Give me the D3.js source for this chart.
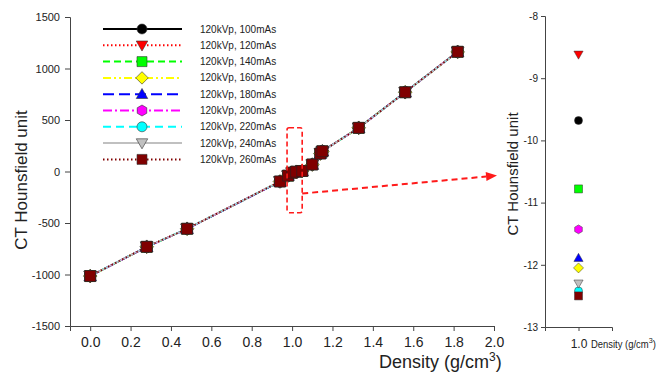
<!DOCTYPE html>
<html><head><meta charset="utf-8">
<script src="https://cdn.jsdelivr.net/npm/d3@7"></script>
<style>body{margin:0;background:#fff}svg{display:block;font-family:Arial,"Liberation Sans",sans-serif}</style>
</head><body>
<svg id="c" width="670" height="383"></svg>
<script>
// ---- data ----
const density = [0.00, 0.28, 0.48, 0.94, 0.98, 1.00, 1.02, 1.05, 1.10, 1.14, 1.15, 1.33, 1.56, 1.82];
const seriesLabels = ["120kVp, 100mAs","120kVp, 120mAs","120kVp, 140mAs","120kVp, 160mAs","120kVp, 180mAs","120kVp, 200mAs","120kVp, 220mAs","120kVp, 240mAs","120kVp, 260mAs"];
const hu100 = [-1016, -733, -557, -98, -41, -9.68, -2, 6, 69, 176, 198, 425, 771, 1164];
const hu120 = [-1014, -730, -555, -96, -40, -8.62, -1, 6, 68, 175, 197, 424, 770, 1163];
const hu140 = [-1015, -732, -556, -97, -41, -10.78, -2, 5, 68, 175, 196, 423, 769, 1162];
const hu160 = [-1015, -731, -556, -97, -40, -12.05, -3, 5, 67, 174, 196, 424, 770, 1161];
const hu180 = [-1016, -731, -557, -98, -40, -11.89, -3, 4, 67, 175, 197, 424, 769, 1162];
const hu200 = [-1015, -732, -556, -97, -41, -11.43, -2, 5, 68, 174, 197, 423, 770, 1162];
const hu220 = [-1014, -731, -555, -97, -40, -12.42, -3, 5, 68, 175, 196, 424, 770, 1161];
const hu240 = [-1015, -730, -556, -96, -40, -12.30, -3, 4, 67, 175, 197, 424, 769, 1162];
const hu260 = [-1015, -731, -556, -97, -40, -12.50, -2, 5, 68, 175, 197, 424, 770, 1162];
const waterDensity = 1.0;
const xTicks = [0.0, 0.2, 0.4, 0.6, 0.8, 1.0, 1.2, 1.4, 1.6, 1.8, 2.0];
const yTicks = [-1500, -1000, -500, 0, 500, 1000, 1500];
const zoomYTicks = [-13, -12, -11, -10, -9, -8];
const zoomXTicks = [1.0];
const zoomBoxDensity = [0.975, 1.05];
const zoomBoxHU = [-400, 425];
const arrowFrom = [1.05, -214];
const arrowTo = [2.015, -39];

// ---- styles ----
const allHU = [hu100, hu120, hu140, hu160, hu180, hu200, hu220, hu240, hu260];
const colors = ["#000000","#ff0000","#00ff00","#ffff00","#0000ff","#ff00ff","#00ffff","#c0c0c0","#800000"];
const dashes = [null,"1.5,2.5","7,4","8,3,2,3,2,3","11,5","9,3,2,3","8,5",null,"1.5,2.5"];
const shapes = ["circle","triDown","square","diamond","triUp","hexagon","circle","triDown","square"];

function shapePath(kind, s){
  if(kind==="circle") return d3.symbol(d3.symbolCircle, Math.PI*s*s)();
  if(kind==="square") return `M${-s},${-s}H${s}V${s}H${-s}Z`;
  if(kind==="diamond"){const r=s*1.25;return `M0,${-r}L${r},0L0,${r}L${-r},0Z`;}
  if(kind==="triUp"){const r=s*1.15;return `M0,${-r}L${r},${r*0.75}L${-r},${r*0.75}Z`;}
  if(kind==="triDown"){const r=s*1.15;return `M0,${r}L${r},${-r*0.75}L${-r},${-r*0.75}Z`;}
  if(kind==="hexagon"){const r=s*1.1;return d3.range(6).map((i)=>{const a=Math.PI/3*i+Math.PI/6;return (i?"L":"M")+(r*Math.cos(a)).toFixed(2)+","+(r*Math.sin(a)).toFixed(2);}).join("")+"Z";}
}
const plainFmt = d => String(d);

const svg = d3.select("#c");
const txt = "#222";

// ---- main chart ----
const x = d3.scaleLinear([-0.1, 2.0], [70, 494]);
const y = d3.scaleLinear([-1500, 1500], [326, 17]);

const gx = svg.append("g").attr("transform","translate(0,326)")
  .call(d3.axisBottom(x).tickValues(xTicks).tickFormat(d3.format(".1f")).tickSizeOuter(0).tickSize(5).tickPadding(6));
gx.selectAll("text").attr("font-size",14).attr("fill",txt);
const gy = svg.append("g").attr("transform","translate(70,0)")
  .call(d3.axisLeft(y).tickValues(yTicks).tickFormat(plainFmt).tickSizeOuter(0).tickSize(5).tickPadding(5));
gy.selectAll("text").attr("font-size",11).attr("fill",txt);
[gx,gy].forEach(g=>{g.selectAll("path,line").attr("stroke","#444");g.attr("font-family",null);});

svg.append("text").attr("transform","translate(27,180) rotate(-90)").attr("text-anchor","middle")
  .attr("font-size",17).attr("fill",txt).text("CT Hounsfield unit");
const xt = svg.append("text").attr("x",379).attr("y",368).attr("font-size",18).attr("fill",txt);
xt.append("tspan").text("Density (g/cm");
xt.append("tspan").attr("dy",-7).attr("font-size",12).text("3");
xt.append("tspan").attr("dy",7).text(")");

const line = d3.line().x((d,i)=>x(density[i])).y(d=>y(d));
allHU.forEach((hu,k)=>{
  svg.append("path").attr("d",line(hu)).attr("fill","none").attr("stroke",colors[k])
    .attr("stroke-width",1.6).attr("stroke-dasharray",dashes[k]);
});
allHU.forEach((hu,k)=>{
  svg.append("g").selectAll("path").data(hu).join("path")
    .attr("transform",(d,i)=>`translate(${x(density[i])},${y(d)})`)
    .attr("d",shapePath(shapes[k],5.5)).attr("fill",colors[k])
    .attr("stroke","#222").attr("stroke-width",0.6);
});

// annotation box + arrow
svg.append("rect").attr("x",x(zoomBoxDensity[0])).attr("y",y(zoomBoxHU[1]))
  .attr("width",x(zoomBoxDensity[1])-x(zoomBoxDensity[0])).attr("height",y(zoomBoxHU[0])-y(zoomBoxHU[1]))
  .attr("rx",2).attr("fill","none").attr("stroke","#ff1a1a").attr("stroke-width",1.6).attr("stroke-dasharray","5,3");
const ax1=x(arrowFrom[0]), ay1=y(arrowFrom[1]), ax2=x(arrowTo[0]), ay2=y(arrowTo[1]);
const ang=Math.atan2(ay2-ay1, ax2-ax1), hl=11, hw=4.5;
const bx=ax2-hl*Math.cos(ang), by=ay2-hl*Math.sin(ang);
svg.append("line").attr("x1",ax1).attr("y1",ay1).attr("x2",bx).attr("y2",by)
  .attr("stroke","#ff1a1a").attr("stroke-width",2).attr("stroke-dasharray","6,4");
svg.append("path").attr("d",`M${ax2},${ay2}L${bx-hw*Math.sin(ang)},${by+hw*Math.cos(ang)}L${bx+hw*Math.sin(ang)},${by-hw*Math.cos(ang)}Z`)
  .attr("fill","#ff1a1a");

// legend
const lg = svg.append("g");
seriesLabels.forEach((lab,k)=>{
  const ly = 29 + k*16.3;
  lg.append("line").attr("x1",103).attr("x2",182).attr("y1",ly).attr("y2",ly)
    .attr("stroke",colors[k]).attr("stroke-width",2).attr("stroke-dasharray",dashes[k]);
  lg.append("path").attr("transform",`translate(142,${ly})`).attr("d",shapePath(shapes[k],5))
    .attr("fill",colors[k]).attr("stroke","#333").attr("stroke-width",0.6);
  lg.append("text").attr("x",200).attr("y",ly+3.5).attr("font-size",10).attr("fill",txt).text(lab);
});

// ---- zoom panel ----
const xr = d3.scaleLinear([0.5, 1.5], [545, 612]);
const yr = d3.scaleLinear([-13, -8], [327, 16]);
const gxr = svg.append("g").attr("transform","translate(0,327)")
  .call(d3.axisBottom(xr).tickValues(zoomXTicks).tickFormat(d3.format(".1f")).tickSizeOuter(0).tickSize(4).tickPadding(8));
gxr.selectAll("text").attr("font-size",12).attr("fill",txt);
const gyr = svg.append("g").attr("transform","translate(545,0)")
  .call(d3.axisLeft(yr).tickValues(zoomYTicks).tickFormat(plainFmt).tickSizeOuter(0).tickSize(4).tickPadding(3));
gyr.selectAll("text").attr("font-size",10).attr("fill",txt);
[gxr,gyr].forEach(g=>{g.selectAll("path,line").attr("stroke","#444");g.attr("font-family",null);});
svg.append("text").attr("transform","translate(518,174) rotate(-90)").attr("text-anchor","middle")
  .attr("font-size",15).attr("fill",txt).text("CT Hounsfield unit");
const xt2 = svg.append("text").attr("x",591).attr("y",348).attr("font-size",10.5).attr("fill",txt)
  .attr("transform","translate(591,0) scale(0.9,1) translate(-591,0)");
xt2.append("tspan").text("Density (g/cm");
xt2.append("tspan").attr("dy",-5).attr("font-size",8).text("3");
xt2.append("tspan").attr("dy",5).text(")");

const wIdx = density.indexOf(waterDensity);
allHU.forEach((hu,k)=>{
  svg.append("path").attr("transform",`translate(${xr(waterDensity)},${yr(hu[wIdx])})`)
    .attr("d",shapePath(shapes[k],4)).attr("fill",colors[k]).attr("stroke","#333").attr("stroke-width",0.5);
});
</script>
</body></html>
